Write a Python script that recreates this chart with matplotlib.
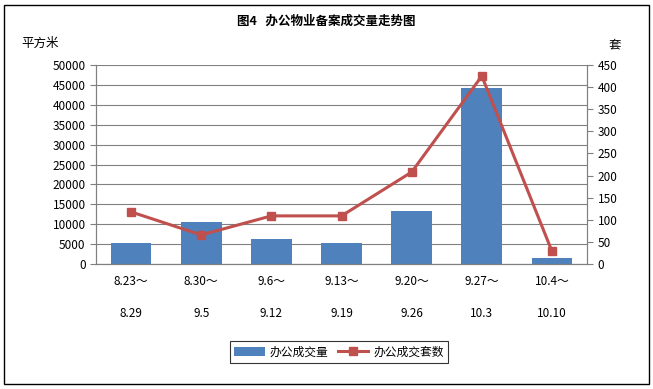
import matplotlib.pyplot as plt
from matplotlib.patches import Rectangle

plt.rcParams['font.family'] = ['Noto Sans CJK SC', 'DejaVu Sans']

# ---- data
weeks = ["8.23～\n\n8.29", "8.30～\n\n9.5", "9.6～\n\n9.12", "9.13～\n\n9.19",
         "9.20～\n\n9.26", "9.27～\n\n10.3", "10.4～\n\n10.10"]
area = [5300, 10500, 6300, 5300, 13300, 44200, 1500]
units = [118, 66, 109, 109, 208, 425, 29]

bar_color = '#4f81bd'
line_color = '#c0504d'

fig = plt.figure(figsize=(6.53, 3.89), dpi=100)
fig.patches.append(Rectangle((0.006, 0.012), 0.988, 0.976, transform=fig.transFigure,
                             fill=False, edgecolor='black', linewidth=1.0))

ax1 = fig.add_axes([0.147, 0.321, 0.752, 0.512])
x = list(range(len(weeks)))
b = ax1.bar(x, area, width=0.58, color=bar_color, zorder=2, label='办公成交量')
ax1.set_ylim(0, 50000)
ax1.set_yticks(range(0, 50001, 5000))
ax1.set_xlim(-0.5, len(weeks) - 0.5)
ax1.set_xticks(x)
ax1.set_xticklabels(weeks, fontsize=8.5, linespacing=1.3)
ax1.tick_params(axis='x', length=0, pad=8)
ax1.tick_params(axis='y', labelsize=8.5, length=4, color='#808080')
ax1.grid(axis='y', color='#808080', linewidth=0.8, zorder=0)
for s in ['top']:
    ax1.spines[s].set_visible(False)
for s in ['left', 'right', 'bottom']:
    ax1.spines[s].set_color('#808080')

ax2 = ax1.twinx()
l, = ax2.plot(x, units, color=line_color, linewidth=2.2, marker='s', markersize=6,
              zorder=3, label='办公成交套数')
ax2.set_ylim(0, 450)
ax2.set_yticks(range(0, 451, 50))
ax2.tick_params(axis='y', labelsize=8.5, length=4, color='#808080')
ax2.spines['top'].set_visible(False)
for s in ['left', 'right', 'bottom']:
    ax2.spines[s].set_color('#808080')

fig.text(0.5, 0.945, '图4   办公物业备案成交量走势图', ha='center', va='center',
         fontsize=9, fontweight='bold')
fig.text(0.062, 0.888, '平方米', ha='center', va='center', fontsize=9)
fig.text(0.942, 0.885, '套', ha='center', va='center', fontsize=9)

leg = fig.legend(handles=[b, l], loc='center', bbox_to_anchor=(0.519, 0.095),
                 ncol=2, fontsize=8.5, frameon=True, fancybox=False,
                 handlelength=2.6, columnspacing=0.8, handletextpad=0.4,
                 borderpad=0.35)
leg.get_frame().set_edgecolor('black')
leg.get_frame().set_linewidth(0.8)

fig.savefig('out.png', dpi=100)
